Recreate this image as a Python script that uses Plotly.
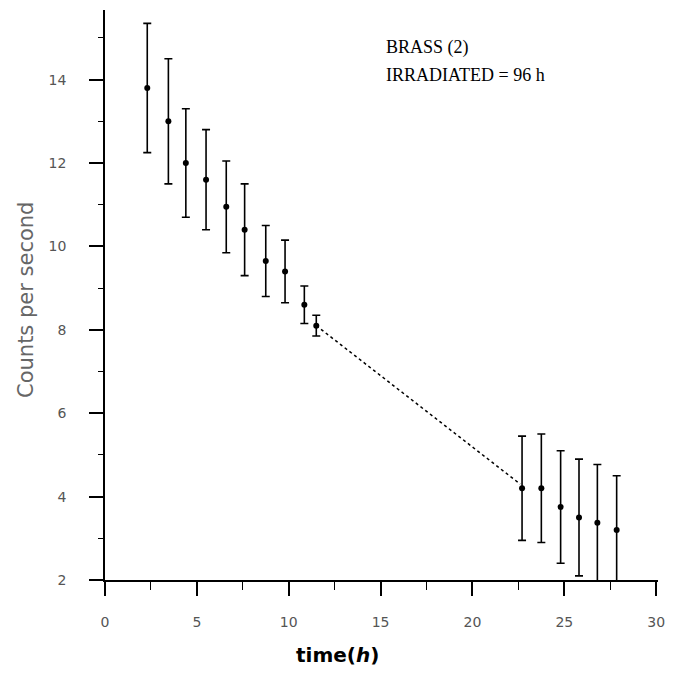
import plotly.graph_objects as go

# Measured count rates (counts per second) vs time (h)
t_early = [2.3, 3.45, 4.4, 5.5, 6.6, 7.6, 8.75, 9.8, 10.85, 11.5]
c_early = [13.8, 13.0, 12.0, 11.6, 10.95, 10.4, 9.65, 9.4, 8.6, 8.1]
e_early = [1.55, 1.5, 1.3, 1.2, 1.1, 1.1, 0.85, 0.75, 0.45, 0.25]

t_late = [22.7, 23.75, 24.8, 25.8, 26.8, 27.85]
c_late = [4.2, 4.2, 3.75, 3.5, 3.37, 3.2]
e_late = [1.25, 1.3, 1.35, 1.4, 1.4, 1.3]

# Fitted decay line (dotted)
fit_t = [11.5, 22.6]
fit_c = [8.1, 4.3]

x_ticks = [0, 5, 10, 15, 20, 25, 30]
y_ticks = [2, 4, 6, 8, 10, 12, 14]

fig = go.Figure()

fig.add_trace(go.Scatter(
    x=fit_t, y=fit_c, mode="lines",
    line=dict(color="black", width=1.5, dash="dot"),
    showlegend=False, hoverinfo="skip"))

for tx, cy, ey in [(t_early, c_early, e_early), (t_late, c_late, e_late)]:
    fig.add_trace(go.Scatter(
        x=tx, y=cy, mode="markers",
        marker=dict(color="black", size=6),
        error_y=dict(type="data", array=ey, visible=True,
                     color="black", thickness=1.6, width=4),
        showlegend=False))

L, R, T, B = 105, 10, 10, 116
W, H = 675, 696
pw, ph = W - L - R, H - T - B

fig.update_layout(
    width=W, height=H,
    margin=dict(l=L, r=R, t=T, b=B),
    paper_bgcolor="white", plot_bgcolor="white",
    font=dict(family="DejaVu Sans", color="#555"),
)

fig.update_xaxes(
    range=[0, 30.1], tickvals=x_ticks, ticktext=[str(v) for v in x_ticks],
    showgrid=False, zeroline=False,
    showline=True, linecolor="black", linewidth=1.5,
    ticks="outside", ticklen=14, tickwidth=1.5, tickcolor="black",
    ticklabelstandoff=14,
    tickfont=dict(size=14, color="#555"),
    minor=dict(tickvals=[2.5, 7.5, 12.5, 17.5, 22.5, 27.5], ticks="outside",
               ticklen=8, tickwidth=1, tickcolor="black"),
)
fig.update_yaxes(
    range=[2, 15.67], tickvals=y_ticks, ticktext=[str(v) for v in y_ticks],
    showgrid=False, zeroline=False,
    showline=True, linecolor="black", linewidth=1.8,
    ticks="outside", ticklen=14, tickwidth=1.5, tickcolor="black",
    ticklabelstandoff=20,
    tickfont=dict(size=14, color="#555"),
    minor=dict(tickvals=[3, 5, 7, 9, 11, 13, 15], ticks="outside",
               ticklen=5, tickwidth=1, tickcolor="black"),
)

fig.add_annotation(
    text="Counts per second", textangle=-90,
    xref="paper", yref="paper",
    x=-(L - 25) / pw, y=(580 - 300) / ph,
    xanchor="center", yanchor="middle", showarrow=False,
    font=dict(family="DejaVu Sans", size=21, color="#666"))

fig.add_annotation(
    text="<b>time(<i>h</i>)</b>",
    xref="paper", yref="paper",
    x=(340 - L) / pw, y=-(655 - 580) / ph,
    xanchor="center", yanchor="middle", showarrow=False,
    font=dict(family="DejaVu Sans", size=20, color="black"))

fig.add_annotation(
    text="BRASS (2)", xref="paper", yref="paper",
    x=(388 - L) / pw, y=(580 - 48) / ph,
    xanchor="left", yanchor="middle", showarrow=False,
    font=dict(family="Liberation Serif", size=18, color="black"))
fig.add_annotation(
    text="IRRADIATED = 96 h", xref="paper", yref="paper",
    x=(388 - L) / pw, y=(580 - 75) / ph,
    xanchor="left", yanchor="middle", showarrow=False,
    font=dict(family="Liberation Serif", size=18, color="black"))

fig.write_html("out.html")
